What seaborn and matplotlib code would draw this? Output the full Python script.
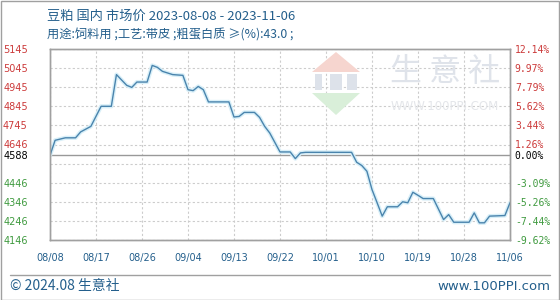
import matplotlib
matplotlib.use("Agg")
import matplotlib.pyplot as plt
from matplotlib.patches import Rectangle, Polygon
from matplotlib.lines import Line2D
import seaborn as sns
import pandas as pd

# ---------------- data ----------------
start_date = "2023-08-08"
end_date = "2023-11-06"
day_offsets = [0, 1, 3, 5, 6, 8, 10, 12, 13, 15, 16, 17, 19, 20, 21, 22, 24, 26,
               27, 28, 29, 30, 31, 35, 36, 37, 38, 40, 41, 42, 43, 45, 47, 48, 49,
               50, 59, 60, 61, 62, 63, 64, 65, 66, 68, 69, 70, 71, 72, 73, 75, 77,
               78, 79, 82, 83, 84, 85, 86, 89, 90]
prices = [4588, 4667, 4680, 4680, 4711, 4740, 4845, 4845, 5011, 4955, 4944, 4972,
          4972, 5059, 5049, 5028, 5011, 5007, 4932, 4927, 4949, 4932, 4868, 4868,
          4789, 4792, 4813, 4813, 4787, 4740, 4705, 4606, 4606, 4571, 4601, 4604,
          4604, 4552, 4535, 4505, 4409, 4340, 4270, 4319, 4319, 4345, 4340, 4395,
          4379, 4362, 4362, 4252, 4278, 4238, 4238, 4287, 4235, 4235, 4270, 4273,
          4340]
base_price = 4588
y_min, y_max = 4145, 5145
left_tick_values = [5145, 5045, 4945, 4845, 4745, 4645, 4588, 4445, 4345, 4245, 4145]
left_tick_labels = ["5145", "5045", "4945", "4845", "4745", "4646", "4588",
                    "4446", "4346", "4246", "4146"]
right_tick_labels = ["12.14%", "9.97%", "7.79%", "5.62%", "3.44%", "1.26%", "0.00%",
                     "-3.09%", "-5.26%", "-7.44%", "-9.62%"]
grid_levels = [5145, 5045, 4945, 4845, 4745, 4645, 4545, 4445, 4345, 4245, 4145]
x_tick_labels = ["08/08", "08/17", "08/26", "09/04", "09/13", "09/22",
                 "10/01", "10/10", "10/19", "10/28", "11/06"]
x_tick_step_days = 9
title_line1 = "豆粕 国内 市场价 2023-08-08 - 2023-11-06"
title_line2 = "用途:饲料用 ;工艺:带皮 ;粗蛋白质 ≥(%):43.0 ;"
footer_left = "© 2024.08 生意社"
footer_right = "www.100PPI.com"

# ---------------- style ----------------
sns.set_theme(style="white")
plt.rcParams['font.family'] = ['Noto Sans CJK SC', 'DejaVu Sans']

RED = "#cc3a3a"
GREEN = "#3f9a3f"
BLUE_TXT = "#245f8c"
LINE = "#4a84ad"
GRID = "#cccccc"

df = pd.DataFrame({
    "date": pd.to_datetime(start_date) + pd.to_timedelta(day_offsets, unit="D"),
    "price": prices,
})

fig = plt.figure(figsize=(5.6, 3.0), dpi=100)
fig.patch.set_facecolor("white")
ax = fig.add_axes([50 / 560, 1 - 240 / 300, 460 / 560, 191 / 300])
ax.set_facecolor("white")

x0 = pd.to_datetime(start_date)
x1 = pd.to_datetime(end_date)
xticks = pd.date_range(x0, x1, freq=f"{x_tick_step_days}D")

# grid
for g in grid_levels:
    ax.axhline(g, color=GRID, lw=0.8, ls=(0, (2, 2)), zorder=0)
for xt in xticks:
    ax.axvline(xt, color=GRID, lw=0.8, ls=(0, (2, 2)), zorder=0)
ax.axhline(base_price, color="#999999", lw=1.0, zorder=1)

# watermark
fig.patches.append(Polygon([[312 / 560, 1 - 72 / 300], [336 / 560, 1 - 52 / 300],
                            [360 / 560, 1 - 72 / 300]], closed=True,
                           transform=fig.transFigure, facecolor="#f6d5cf",
                           edgecolor="none", zorder=0.5))
fig.patches.append(Polygon([[312 / 560, 1 - 93 / 300], [360 / 560, 1 - 93 / 300],
                            [336 / 560, 1 - 115 / 300]], closed=True,
                           transform=fig.transFigure, facecolor="#d9efd9",
                           edgecolor="none", zorder=0.5))
for bx, bw in [(315, 7), (330, 12), (347, 10)]:
    fig.patches.append(Rectangle((bx / 560, 1 - 90 / 300), bw / 560, 16 / 300,
                                 transform=fig.transFigure, facecolor="#dde2ea",
                                 edgecolor="none", zorder=0.5))
fig.text(445 / 560, 1 - 72 / 300, "生 意 社", ha="center", va="center",
         fontsize=23, color="#dfe3ea", zorder=0.6)
fig.text(445 / 560, 1 - 107 / 300, "WWW.100PPI.COM", ha="center", va="center",
         fontsize=8.5, color="#e4e6ea", family=["DejaVu Sans"], zorder=0.6)

# line with glow
sns.lineplot(data=df, x="date", y="price", ax=ax, color="#d8eff8", linewidth=3.0,
             zorder=2)
sns.lineplot(data=df, x="date", y="price", ax=ax, color=LINE, linewidth=1.0,
             zorder=3)

ax.set_xlim(x0, x1)
ax.set_ylim(y_min, y_max)
ax.set_xlabel("")
ax.set_ylabel("")

ax.set_xticks(xticks)
ax.set_xticklabels(x_tick_labels, family=["DejaVu Sans"], fontsize=7, color=BLUE_TXT)
ax.set_yticks(left_tick_values)
ax.set_yticklabels(left_tick_labels, family=["DejaVu Sans"], fontsize=7)
for lbl, v in zip(ax.get_yticklabels(), left_tick_values):
    lbl.set_color("black" if v == base_price else (RED if v > base_price else GREEN))
ax.tick_params(axis="y", length=0, pad=16)
ax.tick_params(axis="x", length=0, pad=9)

ax2 = ax.twinx()
ax2.set_ylim(y_min, y_max)
ax2.set_yticks(left_tick_values)
ax2.set_yticklabels(right_tick_labels, family=["DejaVu Sans Mono"], fontsize=7)
for lbl, v in zip(ax2.get_yticklabels(), left_tick_values):
    lbl.set_color("black" if v == base_price else (RED if v > base_price else GREEN))
ax2.tick_params(axis="y", length=0, pad=3.5)
ax2.grid(False)

for a in (ax, ax2):
    for s in a.spines.values():
        s.set_color("#a0a0a0")
        s.set_linewidth(1.0)

# titles
fig.text(47 / 560, 1 - 16 / 300, title_line1, ha="left", va="center",
         fontsize=9.5, color=BLUE_TXT)
fig.text(47 / 560, 1 - 35 / 300, title_line2, ha="left", va="center",
         fontsize=8.8, color=BLUE_TXT)

# footer
fig.lines.append(Line2D([10 / 560, 550 / 560], [1 - 275 / 300, 1 - 275 / 300],
                        transform=fig.transFigure, color="#a0a0a0", lw=1.0))
fig.text(10 / 560, 1 - 286 / 300, footer_left, ha="left", va="center",
         fontsize=10, color=BLUE_TXT)
fig.text(550 / 560, 1 - 286 / 300, footer_right, ha="right", va="center",
         fontsize=9.5, color=BLUE_TXT, family=["DejaVu Sans"])

# outer border
fig.patches.append(Rectangle((0.5 / 560, 0.5 / 300), 558.5 / 560, 298.5 / 300,
                             transform=fig.transFigure, fill=False,
                             edgecolor="#a0a0a0", lw=1.0))

fig.savefig("out.png", dpi=100)
